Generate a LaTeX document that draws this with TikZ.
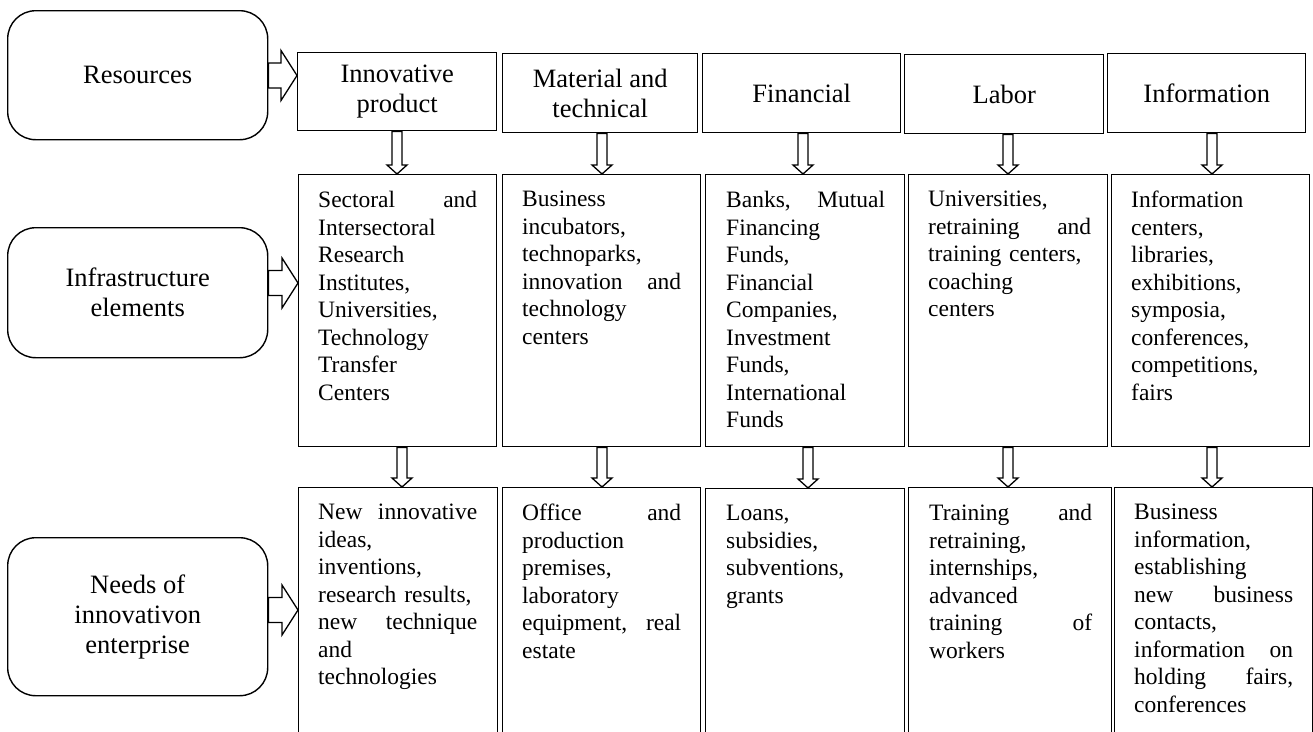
\documentclass[tikz,border=0pt]{standalone}
\usepackage{fontspec}
\setmainfont{Liberation Serif}
\usetikzlibrary{calc}
\newcommand\hdrfont{\fontsize{26.5}{30}\selectfont}
\newcommand\bodyfont{\fontsize{23.5}{27.5}\selectfont}
\tikzset{
  lbl/.style={draw, line width=1.4pt, rounded corners=28pt, minimum width=260pt, align=center, inner sep=0pt, anchor=north west, font=\hdrfont},
  hdr/.style={draw, line width=1.4pt, align=center, inner sep=0pt, anchor=north west, font=\hdrfont},
  cell/.style={draw, line width=1.4pt, inner sep=0pt, anchor=north west},
  body/.style={anchor=north west, inner sep=0pt, text width=159pt, align=left, font=\bodyfont},
  blk/.style={draw, line width=1.3pt, fill=white, line join=miter}
}
\newcommand\harr[3]{%
  \draw[blk] ($(#1.east|-0,#3)+(0,-12.5)$) -- ($(#2.west|-0,#3)+(-16,-12.5)$) -- ($(#2.west|-0,#3)+(-16,-25)$) -- (#2.west|-0,#3) -- ($(#2.west|-0,#3)+(-16,25)$) -- ($(#2.west|-0,#3)+(-16,12.5)$) -- ($(#1.east|-0,#3)+(0,12.5)$) -- cycle;}
\newcommand\varr[3]{%
  \draw[blk] ($(#3,0|-#1.south)+(-5,0)$) -- ($(#3,0|-#2.north)+(-5,-9)$) -- ($(#3,0|-#2.north)+(-10,-9)$) -- (#3,0|-#2.north) -- ($(#3,0|-#2.north)+(10,-9)$) -- ($(#3,0|-#2.north)+(5,-9)$) -- ($(#3,0|-#1.south)+(5,0)$) -- cycle;}
\begin{document}
\begin{tikzpicture}[x=1pt,y=-1pt]
\useasboundingbox (0,0) rectangle (1313,731);
\clip (0,0) rectangle (1313,731);
% left labels
\node[lbl, minimum height=129pt] (l1) at (7,10) {Resources};
\node[lbl, minimum height=130pt] (l2) at (7,227) {Infrastructure\\elements};
\node[lbl, minimum height=158pt] (l3) at (7,537) {Needs of\\innovativon\\enterprise};
% headers
\node[hdr, minimum width=199pt, minimum height=78pt] (h1) at (297,52) {Innovative\\product};
\node[hdr, minimum width=195pt, minimum height=79pt] (h2) at (502,53) {Material and\\technical};
\node[hdr, minimum width=198pt, minimum height=79pt] (h3) at (702,53) {Financial};
\node[hdr, minimum width=199pt, minimum height=79pt] (h4) at (904,54) {Labor};
\node[hdr, minimum width=198pt, minimum height=79pt] (h5) at (1107,53) {Information};
% middle cells
\node[cell, minimum width=198pt, minimum height=272pt] (m1) at (298,174) {};
\node[cell, minimum width=198pt, minimum height=272pt] (m2) at (502,174) {};
\node[cell, minimum width=199pt, minimum height=272pt] (m3) at (705,174) {};
\node[cell, minimum width=199pt, minimum height=272pt] (m4) at (908,174) {};
\node[cell, minimum width=198pt, minimum height=272pt] (m5) at (1111,174) {};
% bottom cells
\node[cell, minimum width=199pt, minimum height=280pt] (b1) at (298,487) {};
\node[cell, minimum width=198pt, minimum height=280pt] (b2) at (502,487) {};
\node[cell, minimum width=199pt, minimum height=280pt] (b3) at (705,488) {};
\node[cell, minimum width=203pt, minimum height=280pt] (b4) at (908,487) {};
\node[cell, minimum width=198pt, minimum height=280pt] (b5) at (1114,487) {};
% middle texts
\node[body] (tm1) at ($(m1.north west)+(20,17)$) {Sectoral\hfill and\\Intersectoral\\Research\\Institutes,\\Universities,\\Technology\\Transfer\\Centers};
\node[body] (tm2) at ($(m2.north west)+(20,17)$) {Business\\incubators,\\technoparks,\\innovation\hfill and\\technology\\centers};
\node[body] (tm3) at ($(m3.north west)+(21,17)$) {Banks,\hfill Mutual\\Financing\\Funds,\\Financial\\Companies,\\Investment\\Funds,\\International\\Funds};
\node[body, text width=163pt] (tm4) at ($(m4.north west)+(20,17)$) {Universities,\\retraining\hfill and\\training centers,\\coaching\\centers};
\node[body] (tm5) at ($(m5.north west)+(20,17)$) {Information\\centers,\\libraries,\\exhibitions,\\symposia,\\conferences,\\competitions,\\fairs};
% bottom texts
\node[body] (tb1) at ($(b1.north west)+(20,17)$) {New\hfill innovative\\ideas,\\inventions,\\research results,\\new\hfill technique\\and\\technologies};
\node[body] (tb2) at ($(b2.north west)+(20,17)$) {Office\hfill and\\production\\premises,\\laboratory\\equipment,\hfill real\\estate};
\node[body] (tb3) at ($(b3.north west)+(21,17)$) {Loans,\\subsidies,\\subventions,\\grants};
\node[body, text width=163pt] (tb4) at ($(b4.north west)+(21,17)$) {Training\hfill and\\retraining,\\internships,\\advanced\\training\hfill of\\workers};
\node[body] (tb5) at ($(b5.north west)+(20,17)$) {Business\\information,\\establishing\\new\hfill business\\contacts,\\information\hfill on\\holding\hfill fairs,\\conferences};
% horizontal arrows
\harr{l1}{h1}{75.5}
\harr{l2}{m1}{283}
\harr{l3}{b1}{610}
% vertical arrows
\varr{h1}{m1}{397}
\varr{h2}{m2}{602}
\varr{h3}{m3}{803}
\varr{h4}{m4}{1008}
\varr{h5}{m5}{1212}
\varr{m1}{b1}{402}
\varr{m2}{b2}{602}
\varr{m3}{b3}{808}
\varr{m4}{b4}{1008}
\varr{m5}{b5}{1212}
\end{tikzpicture}
\end{document}
